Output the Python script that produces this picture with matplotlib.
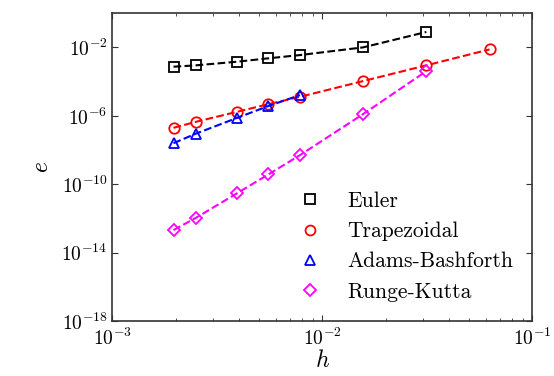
import numpy as np
import matplotlib
matplotlib.use("Agg")
import matplotlib.pyplot as plt
from matplotlib.ticker import LogLocator, NullLocator

plt.rcParams['mathtext.fontset'] = 'cm'
plt.rcParams['font.family'] = 'serif'
plt.rcParams['font.serif'] = ['cmr10', 'DejaVu Serif']
plt.rcParams['axes.unicode_minus'] = False
plt.rcParams['axes.formatter.use_mathtext'] = True

# step sizes
h = [1/512, 1/400, 1/256, 1/181, 1/128, 1/64, 1/32, 1/16]

# log10 of the errors
euler_log = [-3.13, -3.05, -2.84, -2.64, -2.45, -2.00, -1.10]
trap_log = [-6.70, -6.35, -5.77, -5.32, -4.89, -3.97, -3.05, -2.12]
ab_log = [-7.60, -7.04, -6.13, -5.43, -4.79]
rk_log = [-12.68, -11.96, -10.54, -9.43, -8.30, -5.90, -3.39]

series = [
    ("Euler", euler_log, "k", "s"),
    ("Trapezoidal", trap_log, "r", "o"),
    ("Adams-Bashforth", ab_log, "b", "^"),
    ("Runge-Kutta", rk_log, "magenta", "D"),
]

fig = plt.figure(figsize=(5.54, 3.76), dpi=100)
ax = fig.add_axes([0.203, 0.146, 0.758, 0.819])

for label, vals, col, mk in series:
    x = h[:len(vals)]
    y = 10.0 ** np.array(vals)
    ax.plot(x, y, '--', color=col, lw=1.5)
    ms = 6.5 if mk == "D" else 7.5
    ax.plot(x, y, linestyle='none', marker=mk, color=col, mfc='none',
            mew=1.3, ms=ms, label=label)

ax.set_xscale('log')
ax.set_yscale('log')
ax.set_xlim(1e-3, 1e-1)
ax.set_ylim(1e-18, 1e0)
ax.set_yticks([1e-18, 1e-14, 1e-10, 1e-6, 1e-2])
ax.yaxis.set_minor_locator(NullLocator())
ax.xaxis.set_minor_locator(LogLocator(base=10, subs=np.arange(2, 10)))

ax.tick_params(which='both', direction='in', top=True, right=True,
               labelsize=14, color='#333333')
ax.tick_params(axis='x', pad=5)
ax.tick_params(which='major', length=4)
ax.tick_params(which='minor', length=2.5)
for sp in ax.spines.values():
    sp.set_color('#333333')
    sp.set_linewidth(1.2)

ax.set_xlabel(r'$h$', fontsize=17, labelpad=0)
ax.set_ylabel(r'$e$', fontsize=17, labelpad=6)

ax.legend(loc='lower right', bbox_to_anchor=(1.0, 0.0), frameon=False,
          fontsize=15.5, handletextpad=0.7, labelspacing=0.5,
          markerscale=0.95)

fig.savefig("out.png", dpi=100)
